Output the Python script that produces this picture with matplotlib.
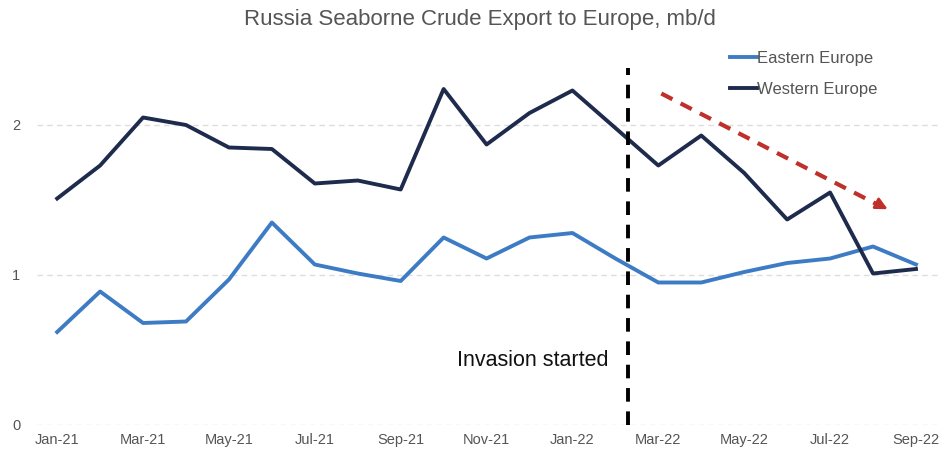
import matplotlib
matplotlib.use("Agg")
import matplotlib.pyplot as plt

months = ["Jan-21", "Feb-21", "Mar-21", "Apr-21", "May-21", "Jun-21", "Jul-21",
          "Aug-21", "Sep-21", "Oct-21", "Nov-21", "Dec-21", "Jan-22", "Feb-22",
          "Mar-22", "Apr-22", "May-22", "Jun-22", "Jul-22", "Aug-22", "Sep-22"]
eastern = [0.62, 0.89, 0.68, 0.69, 0.97, 1.35, 1.07, 1.01, 0.96, 1.25, 1.11,
           1.25, 1.28, 1.11, 0.95, 0.95, 1.02, 1.08, 1.11, 1.19, 1.07]
western = [1.51, 1.73, 2.05, 2.00, 1.85, 1.84, 1.61, 1.63, 1.57, 2.24, 1.87,
           2.08, 2.23, 1.98, 1.73, 1.93, 1.68, 1.37, 1.55, 1.01, 1.04]
yticks = [0, 1, 2]
invasion_x = 13.3

plt.rcParams['font.family'] = ['Liberation Sans', 'DejaVu Sans']

fig = plt.figure(figsize=(9.47, 4.55), dpi=100)
ax = fig.add_axes([37/947, 1-425/455, (940-37)/947, (425-65)/455])

x = list(range(len(months)))
ax.plot(x, eastern, color="#3d7cc4", lw=2.8, label="Eastern Europe")
ax.plot(x, western, color="#1e2b4d", lw=2.8, label="Western Europe")

ax.set_xlim(-0.47, 20.56)
ax.set_ylim(0, 2.4)

for y in yticks:
    ax.axhline(y, color="#dddddd", lw=1, ls=(0, (4, 3)), zorder=0)

ax.axvline(invasion_x, ymin=0, ymax=(2.38)/2.4, color="black", lw=2.8, ls=(0, (3.5, 2.5)))
ax.text(invasion_x - 0.45, 0.43, "Invasion started", ha="right", va="center",
        fontsize=15.5, color="#111111")

# red dashed trend arrow
ax.plot([14.07, 19.1], [2.21, 1.47], color="#c0302a", lw=3, ls=(0, (3, 2.2)))
ax.annotate("", xy=(19.4, 1.43), xytext=(19.0, 1.49),
            arrowprops=dict(arrowstyle="-|>,head_length=0.7,head_width=0.35",
                            color="#c0302a", lw=2))

ax.set_xticks(x[::2])
ax.set_xticklabels(months[::2], fontsize=10.5, color="#555555")
ax.set_yticks(yticks)
ax.set_yticklabels([str(v) for v in yticks], fontsize=10.5, color="#555555")
ax.tick_params(length=0, pad=6)
ax.tick_params(axis="y", pad=12)
for s in ax.spines.values():
    s.set_visible(False)

fig.text(480/947, 1-19/455, "Russia Seaborne Crude Export to Europe, mb/d",
         ha="center", va="center", fontsize=16, color="#555555")

leg = ax.legend(loc="upper left", bbox_to_anchor=(715/947, 1-36/455),
                bbox_transform=fig.transFigure, frameon=False, fontsize=12,
                handlelength=1.6, handletextpad=0.0, labelspacing=0.95)
for t in leg.get_texts():
    t.set_color("#555555")

fig.savefig("out.png", dpi=100)
